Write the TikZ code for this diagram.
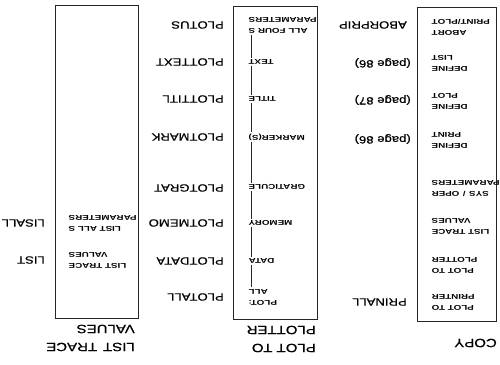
\documentclass[tikz,border=0pt]{standalone}
\usepackage{fontspec}
\setmainfont{Liberation Sans}
\newfontfamily\labfont[FakeStretch=1.25,FakeBold=0.6]{Liberation Sans}
\newfontfamily\inbfont[FakeStretch=1.4]{Liberation Sans}
\begin{document}
\begin{tikzpicture}[x=1pt,y=1pt,
  panel/.style={draw=black!85, line width=0.8pt, inner sep=0pt, anchor=south west},
  lab/.style={anchor=west, inner sep=0pt, font=\labfont\fontsize{10.5}{12}\selectfont},
  itm/.style={anchor=east, inner sep=1.5pt, align=right, font=\inbfont\bfseries\fontsize{7}{11}\selectfont},
  ttl/.style={anchor=west, inner sep=0pt, align=left, font=\labfont\fontsize{12}{18}\selectfont},
  conn/.style={draw=black!85, line width=0.6pt}]
\useasboundingbox (0,0) rectangle (500,364);
\begin{scope}[rotate around={180:(250,182)}, transform shape]
% boxes
\node[panel, minimum width=79, minimum height=314] (boxR) at (3,7) {};
\node[panel, minimum width=84, minimum height=313] (boxM) at (182,6) {};
\node[panel, minimum width=83, minimum height=313] (boxL) at (361,5) {};
% titles
\node[ttl] (tR) at (3,343) {COPY};
\node[ttl] (tM) at (184,339) {PLOT TO\\PLOTTER};
\node[ttl] (tL) at (365,338) {LIST\enspace TRACE\\VALUES};
% COPY box items
\node[itm] (r1) at (70,302) {PLOT TO\\PRINTER};
\node[itm] (r2) at (70,265) {PLOT TO\\PLOTTER};
\node[itm] (r3) at (70,226) {LIST TRACE\\VALUES};
\node[itm] (r4) at (70,189) {SYS\enspace/\enspace OPER\\PARAMETERS};
\node[itm] (r5) at (70,140) {DEFINE\\PRINT};
\node[itm] (r6) at (70,101) {DEFINE\\PLOT};
\node[itm] (r7) at (70,63) {DEFINE\\LIST};
\node[itm] (r8) at (70,27) {ABORT\\PRINT/PLOT};
% COPY labels
\node[lab] (k1) at (93,302) {PRINALL};
\node[lab] (k5) at (89,139) {(page 86)};
\node[lab] (k6) at (89,100) {(page 87)};
\node[lab] (k7) at (89,63) {(page 86)};
\node[lab] (k8) at (93,25) {ABORPRIP};
% PLOT box items
\node[itm] (mAll) at (253,297) {PLOT:\\ALL};
\node[itm] (mData) at (253,261) {DATA};
\node[itm] (mMem) at (253,223) {MEMORY};
\node[itm] (mGrat) at (253,187) {GRATICULE};
\node[itm] (mMark) at (253,137) {MARKER(S)};
\node[itm] (mTitle) at (253,99) {TITLE};
\node[itm] (mText) at (253,62) {TEXT};
\node[itm] (mFour) at (253,25) {ALL FOUR S\\PARAMETERS};
% PLOT labels
\node[lab] (p1) at (276,297) {PLOTALL};
\node[lab] (p2) at (276,261) {PLOTDATA};
\node[lab] (p3) at (276,223) {PLOTMEMO};
\node[lab] (p4) at (276,188) {PLOTGRAT};
\node[lab] (p5) at (276,137) {PLOTMARK};
\node[lab] (p6) at (276,99) {PLOTTITL};
\node[lab] (p7) at (276,62) {PLOTTEXT};
\node[lab] (p8) at (276,25) {PLOTUS};
% LIST box items
\node[itm] (l1) at (433,260) {LIST TRACE\\VALUES};
\node[itm] (l2) at (433,223) {LIST ALL S\\PARAMETERS};
% LIST labels
\node[lab] (q1) at (455,260) {LIST};
\node[lab] (q2) at (455,223) {LISALL};
% connector line in PLOT box
\coordinate (lx) at (249,0);
\end{scope}
\draw[conn] (lx |- mAll.south) -- (lx |- mData.north);
\draw[conn] (lx |- mData.south) -- (lx |- mMem.north);
\draw[conn] (lx |- mMem.south) -- (lx |- mGrat.north);
\draw[conn] (lx |- mGrat.south) -- (lx |- mMark.north);
\draw[conn] (lx |- mMark.south) -- (lx |- mTitle.north);
\draw[conn] (lx |- mTitle.south) -- (lx |- mText.north);
\draw[conn] (lx |- mText.south) -- (lx |- mFour.north);
\end{tikzpicture}
\end{document}
